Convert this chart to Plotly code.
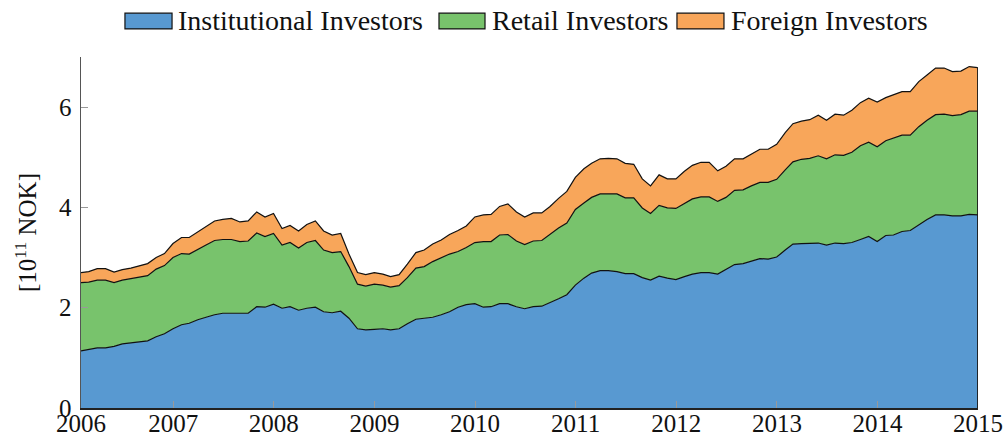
import pandas as pd
import plotly.graph_objects as go

# Monthly observations (month-end), Jan 2006 .. Dec 2014, in 10^11 NOK
dates = pd.date_range("2006-01-31", periods=108, freq="ME")

institutional = [
    1.14, 1.17, 1.20, 1.20, 1.23, 1.28, 1.30, 1.32, 1.34, 1.42, 1.48, 1.58,
    1.66, 1.69, 1.76, 1.81, 1.86, 1.89, 1.89, 1.88, 1.89, 2.02, 2.01, 2.07,
    1.99, 2.02, 1.95, 1.99, 2.01, 1.92, 1.90, 1.93, 1.79, 1.58, 1.56, 1.57,
    1.58, 1.56, 1.58, 1.68, 1.77, 1.79, 1.81, 1.86, 1.92, 2.01, 2.06, 2.08,
    2.01, 2.02, 2.08, 2.08, 2.02, 1.98, 2.02, 2.03, 2.10, 2.18, 2.26, 2.45,
    2.59, 2.69, 2.74, 2.74, 2.72, 2.68, 2.68, 2.60, 2.55, 2.63, 2.59, 2.56,
    2.62, 2.67, 2.70, 2.70, 2.67, 2.77, 2.86, 2.88, 2.93, 2.98, 2.97, 3.01,
    3.15, 3.27, 3.28, 3.28, 3.29, 3.25, 3.29, 3.28, 3.30, 3.36, 3.42, 3.32,
    3.44, 3.45, 3.52, 3.54, 3.66, 3.76, 3.85, 3.85, 3.83, 3.83, 3.86, 3.85,
]

retail = [
    1.36, 1.34, 1.35, 1.35, 1.27, 1.27, 1.28, 1.29, 1.30, 1.35, 1.36, 1.42,
    1.42, 1.38, 1.41, 1.44, 1.48, 1.47, 1.47, 1.44, 1.44, 1.47, 1.41, 1.41,
    1.26, 1.28, 1.24, 1.31, 1.33, 1.23, 1.20, 1.19, 1.03, 0.89, 0.87, 0.90,
    0.87, 0.85, 0.86, 0.92, 1.02, 1.03, 1.11, 1.14, 1.15, 1.11, 1.14, 1.22,
    1.31, 1.30, 1.37, 1.38, 1.31, 1.28, 1.31, 1.31, 1.36, 1.41, 1.43, 1.51,
    1.50, 1.51, 1.53, 1.53, 1.55, 1.51, 1.51, 1.39, 1.33, 1.41, 1.40, 1.42,
    1.45, 1.50, 1.51, 1.51, 1.45, 1.43, 1.48, 1.47, 1.50, 1.52, 1.53, 1.55,
    1.60, 1.64, 1.68, 1.70, 1.74, 1.72, 1.76, 1.76, 1.80, 1.87, 1.88, 1.89,
    1.89, 1.93, 1.92, 1.90, 1.95, 1.98, 2.00, 2.01, 2.00, 2.02, 2.06, 2.07,
]

foreign = [
    0.20, 0.21, 0.23, 0.23, 0.21, 0.21, 0.21, 0.23, 0.24, 0.23, 0.24, 0.28,
    0.32, 0.33, 0.34, 0.38, 0.39, 0.40, 0.42, 0.39, 0.40, 0.42, 0.39, 0.40,
    0.33, 0.34, 0.34, 0.36, 0.39, 0.38, 0.35, 0.36, 0.25, 0.23, 0.23, 0.23,
    0.22, 0.21, 0.22, 0.27, 0.31, 0.33, 0.35, 0.35, 0.39, 0.42, 0.43, 0.51,
    0.53, 0.54, 0.57, 0.61, 0.58, 0.55, 0.56, 0.55, 0.56, 0.59, 0.63, 0.64,
    0.68, 0.68, 0.70, 0.71, 0.70, 0.69, 0.67, 0.58, 0.55, 0.61, 0.58, 0.59,
    0.65, 0.67, 0.69, 0.69, 0.61, 0.62, 0.63, 0.62, 0.64, 0.66, 0.66, 0.70,
    0.74, 0.76, 0.76, 0.77, 0.81, 0.77, 0.81, 0.80, 0.84, 0.86, 0.88, 0.89,
    0.86, 0.86, 0.87, 0.87, 0.90, 0.90, 0.93, 0.92, 0.88, 0.87, 0.89, 0.87,
]

series_names = ["Institutional Investors", "Retail Investors", "Foreign Investors"]
series_values = [institutional, retail, foreign]
series_colors = ["#5899D1", "#78C36C", "#F8A65A"]

tick_dates = ["2006-01-31"] + [f"{y}-01-01" for y in range(2007, 2016)]
tick_text = [str(y) for y in range(2006, 2016)]

FONT = "Liberation Serif, Times New Roman, serif"

fig = go.Figure()
for name, vals, col in zip(series_names, series_values, series_colors):
    fig.add_trace(go.Scatter(
        x=dates, y=vals, name=name, mode="lines",
        stackgroup="one", fillcolor=col,
        line=dict(color="#111111", width=1.2),
        showlegend=False,
    ))

# Closing outline of the stacked areas at the last observation
last_total = sum(v[-1] for v in series_values)
fig.add_trace(go.Scatter(
    x=[dates[-1], dates[-1]], y=[0, last_total], mode="lines",
    line=dict(color="#111111", width=1.2), showlegend=False,
    hoverinfo="skip",
))

# Manual legend (boxes + labels) above the plot area
legend_items = [
    (0.049, 0.1015, 0.1059),
    (0.3991, 0.4504, 0.4560),
    (0.6644, 0.7168, 0.7224),
]
for (bx0, bx1, tx), name, col in zip(legend_items, series_names, series_colors):
    fig.add_shape(type="rect", xref="paper", yref="paper",
                  x0=bx0, x1=bx1, y0=1.080, y1=1.125,
                  fillcolor=col, line=dict(color="#111111", width=1.2))
    fig.add_annotation(x=tx, y=1.104, xref="paper", yref="paper",
                       text=name, showarrow=False, xanchor="left",
                       yanchor="middle",
                       font=dict(family=FONT, size=28, color="#111111"))

fig.update_layout(
    width=1006, height=437,
    margin=dict(l=81, r=28, t=57, b=29, autoexpand=False),
    paper_bgcolor="white", plot_bgcolor="white",
    font=dict(family=FONT, size=25, color="#111111"),
    showlegend=False,
)
fig.update_xaxes(
    automargin=False,
    range=["2006-01-31", "2015-01-01"],
    tickvals=tick_dates, ticktext=tick_text,
    ticks="inside", ticklen=7, tickcolor="#999999", tickwidth=1,
    ticklabelstandoff=-8,
    showline=True, linecolor="#222222", linewidth=1.5,
    showgrid=False, zeroline=False,
    tickfont=dict(family=FONT, size=25, color="#111111"),
)
fig.update_yaxes(
    automargin=False,
    range=[0, 7], tickvals=[0, 2, 4, 6],
    ticks="inside", ticklen=7, tickcolor="#999999", tickwidth=1,
    ticklabelstandoff=3,
    showline=True, linecolor="#555555", linewidth=1.5,
    showgrid=False, zeroline=False,
    tickfont=dict(family=FONT, size=25, color="#111111"),
    title=dict(text="[10<sup>11</sup> NOK]", standoff=15,
               font=dict(family=FONT, size=25, color="#111111")),
)

fig.write_html("out.html",
               config={"displayModeBar": False, "staticPlot": True},
               post_script="document.body.style.margin='0px';"
                           "document.body.style.overflow='hidden';")
